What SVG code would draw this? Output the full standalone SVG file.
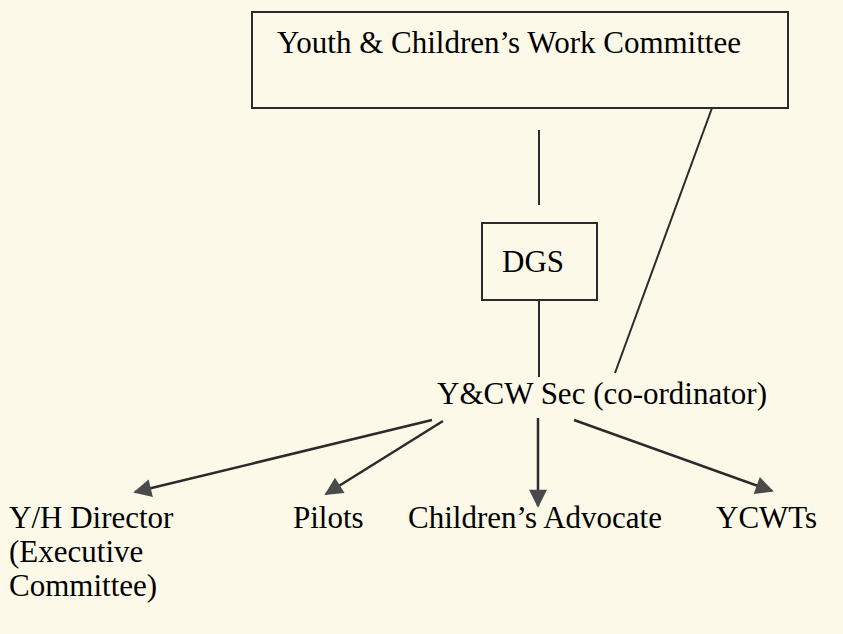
<svg xmlns="http://www.w3.org/2000/svg" width="843" height="634" viewBox="0 0 843 634">
<defs>
<marker id="ah" viewBox="0 0 10 10" refX="9" refY="5" markerWidth="23" markerHeight="18" markerUnits="userSpaceOnUse" orient="auto">
<path d="M0,0 L10,5 L0,10 z" fill="#4a4a4a"/>
</marker>
</defs>
<rect width="843" height="634" fill="#fcf9e8"/>
<g id="connectors" stroke="#2b2b2b" stroke-width="2" fill="none">
<line x1="539" y1="130" x2="539" y2="205"/>
<line x1="539" y1="300" x2="539" y2="377"/>
<line x1="712" y1="108" x2="615" y2="373"/>
<g stroke-width="2.5" marker-end="url(#ah)">
<line x1="432" y1="420" x2="135" y2="492"/>
<line x1="443" y1="421" x2="326" y2="494"/>
<line x1="538" y1="418" x2="538" y2="506"/>
<line x1="574" y1="420" x2="772" y2="491"/>
</g>
</g>
<g id="committee">
<rect x="252" y="12" width="536" height="96" fill="none" stroke="#2b2b2b" stroke-width="2"/>
<text x="277" y="53" font-family="Liberation Serif" font-size="31">Youth &amp; Children’s Work Committee</text>
</g>
<g id="dgs">
<rect x="482" y="223" width="115" height="77" fill="none" stroke="#2b2b2b" stroke-width="2"/>
<text x="502" y="272" font-family="Liberation Serif" font-size="31">DGS</text>
</g>
<g id="sec">
<text x="437" y="404" font-family="Liberation Serif" font-size="31">Y&amp;CW Sec (co-ordinator)</text>
</g>
<g id="yh-director">
<text x="9" y="528" font-family="Liberation Serif" font-size="31">Y/H Director</text>
<text x="9" y="562" font-family="Liberation Serif" font-size="31">(Executive</text>
<text x="9" y="596" font-family="Liberation Serif" font-size="31">Committee)</text>
</g>
<g id="pilots">
<text x="293" y="528" font-family="Liberation Serif" font-size="31">Pilots</text>
</g>
<g id="advocate">
<text x="408" y="528" font-family="Liberation Serif" font-size="31">Children’s Advocate</text>
</g>
<g id="ycwts">
<text x="716" y="528" font-family="Liberation Serif" font-size="31">YCWTs</text>
</g>
</svg>
